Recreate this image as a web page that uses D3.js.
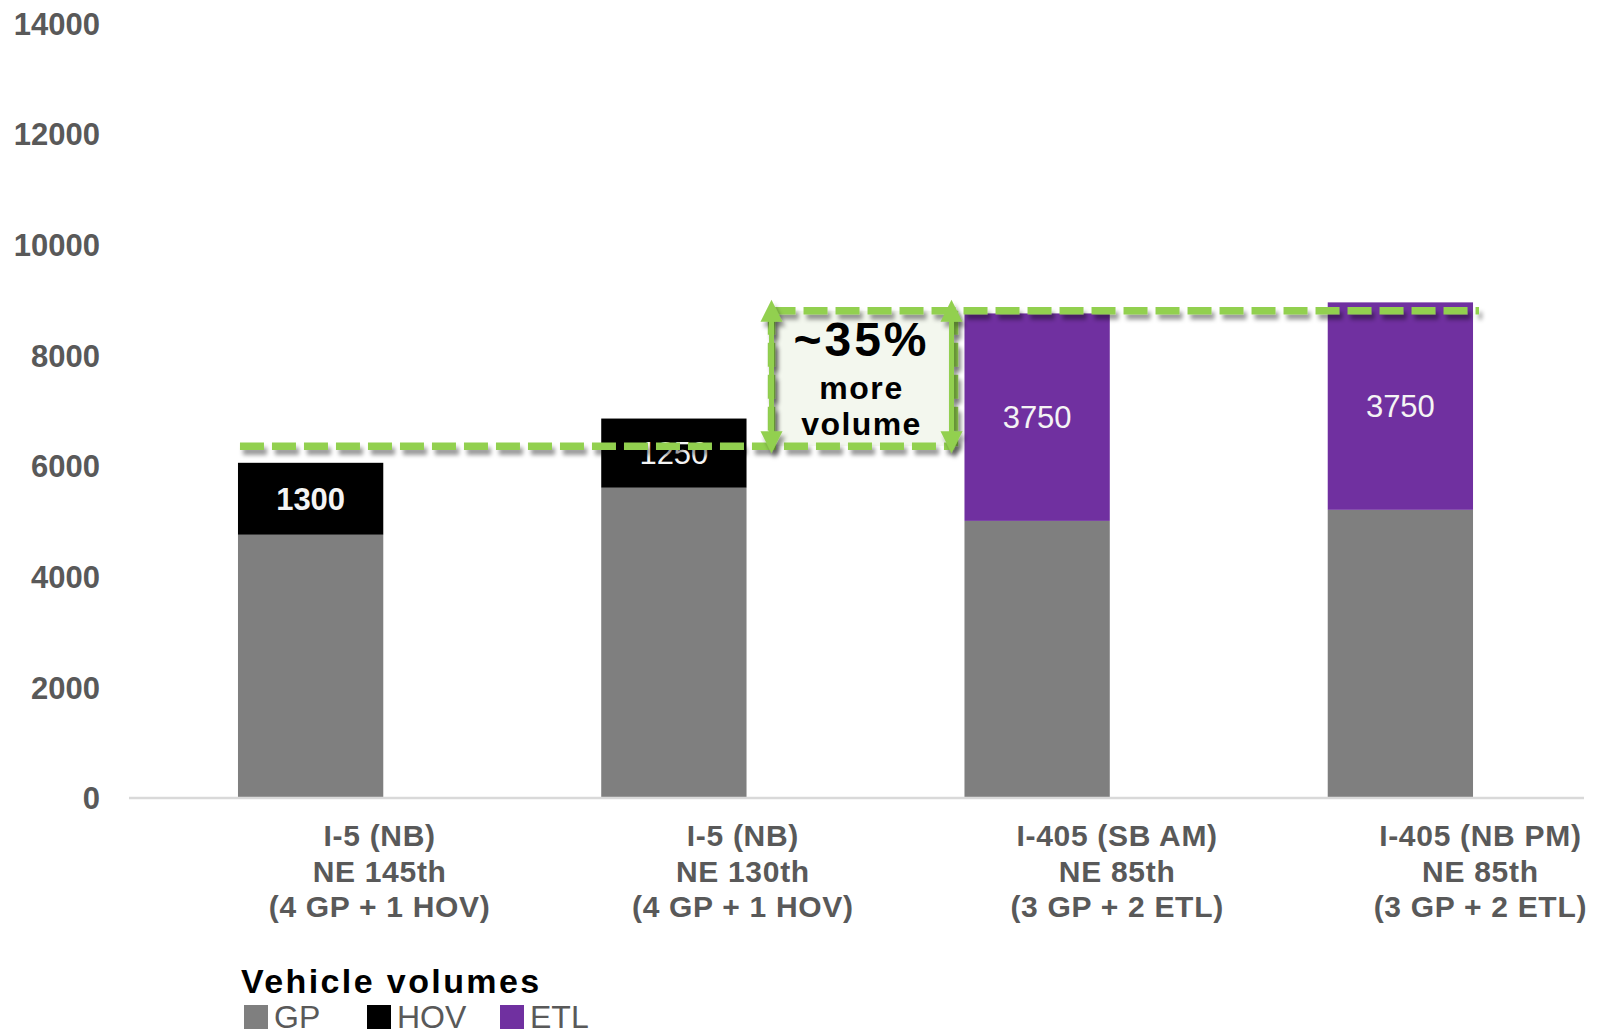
<!DOCTYPE html>
<html><head><meta charset="utf-8">
<script src="https://cdn.jsdelivr.net/npm/d3@7"></script>
<style>
body{margin:0;background:#fff}
svg{display:block;font-family:"Liberation Sans",Arial,Helvetica,sans-serif}
</style>
</head><body>
<svg id="chart" width="1601" height="1035"></svg>
<script>
// ---- data ----
const categories = ["I-5 NE 145th", "I-5 NE 130th", "I-405 SB AM NE 85th", "I-405 NB PM NE 85th"];
const categoryLines = [
  ["I-5 (NB)", "NE 145th", "(4 GP + 1 HOV)"],
  ["I-5 (NB)", "NE 130th", "(4 GP + 1 HOV)"],
  ["I-405 (SB AM)", "NE 85th", "(3 GP + 2 ETL)"],
  ["I-405 (NB PM)", "NE 85th", "(3 GP + 2 ETL)"]
];
const seriesNames = ["GP", "HOV", "ETL"];
const gpValues  = [4750, 5600, 5000, 5200];
const hovValues = [1300, 1250, 0, 0];
const etlValues = [0, 0, 3750, 3750];
const yTicks = [0, 2000, 4000, 6000, 8000, 10000, 12000, 14000];
const annotationLevels = [6350, 8800];
const annotationText = ["~35%", "more", "volume"];
const legendTitle = "Vehicle volumes";

// ---- setup ----
const colors = {GP: "#7f7f7f", HOV: "#000000", ETL: "#7030a0"};
const green = "#92d050";
const svg = d3.select("#chart");

const x = d3.scaleBand().domain(d3.range(categories.length))
  .range([129, 1582]).paddingInner(0.6).paddingOuter(0.3);
const y = d3.scaleLinear().domain([0, 14000]).range([797.5, 23]);
const bw = x.bandwidth();

const rows = categories.map((c, i) => ({i, GP: gpValues[i], HOV: hovValues[i], ETL: etlValues[i]}));
const stacked = d3.stack().keys(seriesNames)(rows);

// defs: shadow
const defs = svg.append("defs");
const f = defs.append("filter").attr("id", "sh").attr("x", "-5%").attr("y", "-100%").attr("width", "110%").attr("height", "400%");
f.append("feDropShadow").attr("dx", 3).attr("dy", 5).attr("stdDeviation", 2.2)
  .attr("flood-color", "#000").attr("flood-opacity", 0.4);

// y axis labels
const yAxis = d3.axisLeft(y).tickValues(yTicks).tickSize(0).tickPadding(29).tickFormat(d3.format("d"));
const ya = svg.append("g").attr("transform", "translate(129,0)").call(yAxis);
ya.select(".domain").remove();
ya.selectAll("text").attr("font-size", 31).attr("font-weight", "bold").attr("fill", "#595959")
  .attr("font-family", "'Liberation Sans',Arial,sans-serif").attr("dy", "0.36em");

// bars
svg.append("g").selectAll("g").data(stacked).join("g")
  .attr("fill", d => colors[d.key])
  .selectAll("rect").data(d => d.filter(s => s[1] > s[0])).join("rect")
  .attr("x", d => x(d.data.i)).attr("width", bw)
  .attr("y", d => y(d[1])).attr("height", d => y(d[0]) - y(d[1]));

// baseline
svg.append("line").attr("x1", 129).attr("x2", 1584).attr("y1", y(0) + 0.5).attr("y2", y(0) + 0.5)
  .attr("stroke", "#d9d9d9").attr("stroke-width", 2.5);

// segment labels
stacked.filter(s => s.key !== "GP").forEach(s => {
  svg.append("g").selectAll("text").data(s.filter(d => d[1] > d[0])).join("text")
    .attr("x", d => x(d.data.i) + bw / 2)
    .attr("y", d => (y(d[0]) + y(d[1])) / 2)
    .attr("dy", "0.36em").attr("text-anchor", "middle")
    .attr("font-size", 31).attr("fill", "#f4f4f4")
    .attr("font-weight", d => d.data.i === 0 ? "bold" : "normal")
    .text(d => d[1] - d[0]);
});

// x labels
const xl = svg.append("g");
categoryLines.forEach((lines, i) => {
  const cx = x(i) + bw / 2 + (i < 2 ? 69 : 80);
  const t = xl.append("text").attr("text-anchor", "middle").attr("font-size", 30)
    .attr("font-weight", "bold").attr("fill", "#595959").attr("letter-spacing", 0.7);
  lines.forEach((ln, k) => t.append("tspan").attr("x", cx).attr("y", 846 + k * 35.5).text(ln));
});

// annotation
const yLo = y(annotationLevels[0]), yHi = y(annotationLevels[1]);
const boxL = x(1) + bw + 25, boxR = x(2) - 13;
svg.append("rect").attr("x", boxL).attr("y", yHi).attr("width", boxR - boxL).attr("height", yLo - yHi)
  .attr("fill", "#f3f7ee");

const dash = svg.append("g").attr("filter", "url(#sh)").attr("stroke", green).attr("stroke-width", 7.5)
  .attr("stroke-dasharray", "24,8").attr("fill", "none");
dash.append("line").attr("x1", x(0) + 2).attr("x2", boxR + 3).attr("y1", yLo).attr("y2", yLo);
dash.append("line").attr("x1", boxL).attr("x2", x(3) + bw + 6).attr("y1", yHi).attr("y2", yHi);
dash.append("line").attr("x1", boxL).attr("x2", boxL).attr("y1", yHi).attr("y2", yLo);
dash.append("line").attr("x1", boxR + 3).attr("x2", boxR + 3).attr("y1", yHi).attr("y2", yLo);

// double arrows
const arr = svg.append("g").attr("filter", "url(#sh)");
[boxL, boxR].forEach(ax => {
  const top = yHi - 11, bot = yLo + 7, hw = 11, hl = 22;
  arr.append("line").attr("x1", ax).attr("x2", ax).attr("y1", top + hl - 2).attr("y2", bot - hl + 2)
    .attr("stroke", green).attr("stroke-width", 5);
  arr.append("path").attr("fill", green)
    .attr("d", `M${ax},${top}L${ax + hw},${top + hl}L${ax - hw},${top + hl}Z`);
  arr.append("path").attr("fill", green)
    .attr("d", `M${ax},${bot}L${ax + hw},${bot - hl}L${ax - hw},${bot - hl}Z`);
});

const cxA = (boxL + boxR) / 2;
svg.append("text").attr("x", cxA).attr("y", yHi + 45).attr("text-anchor", "middle")
  .attr("font-size", 48).attr("font-weight", "bold").attr("letter-spacing", 3).text(annotationText[0]);
svg.append("text").attr("x", cxA).attr("y", yHi + 88).attr("text-anchor", "middle")
  .attr("font-size", 32).attr("font-weight", "bold").attr("letter-spacing", 1.6).text(annotationText[1]);
svg.append("text").attr("x", cxA).attr("y", yHi + 124).attr("text-anchor", "middle")
  .attr("font-size", 32).attr("font-weight", "bold").attr("letter-spacing", 1.4).text(annotationText[2]);

// legend
const lg = svg.append("g");
lg.append("text").attr("x", 241).attr("y", 993).attr("font-size", 34).attr("font-weight", "bold")
  .attr("letter-spacing", 2.4).attr("fill", "#000").text(legendTitle);
const legX = [244, 367, 500];
seriesNames.forEach((s, i) => {
  lg.append("rect").attr("x", legX[i]).attr("y", 1005).attr("width", 24).attr("height", 24).attr("fill", colors[s]);
  lg.append("text").attr("x", legX[i] + 30).attr("y", 1028).attr("font-size", 32)
    .attr("fill", "#595959").text(s);
});
</script>
</body></html>
